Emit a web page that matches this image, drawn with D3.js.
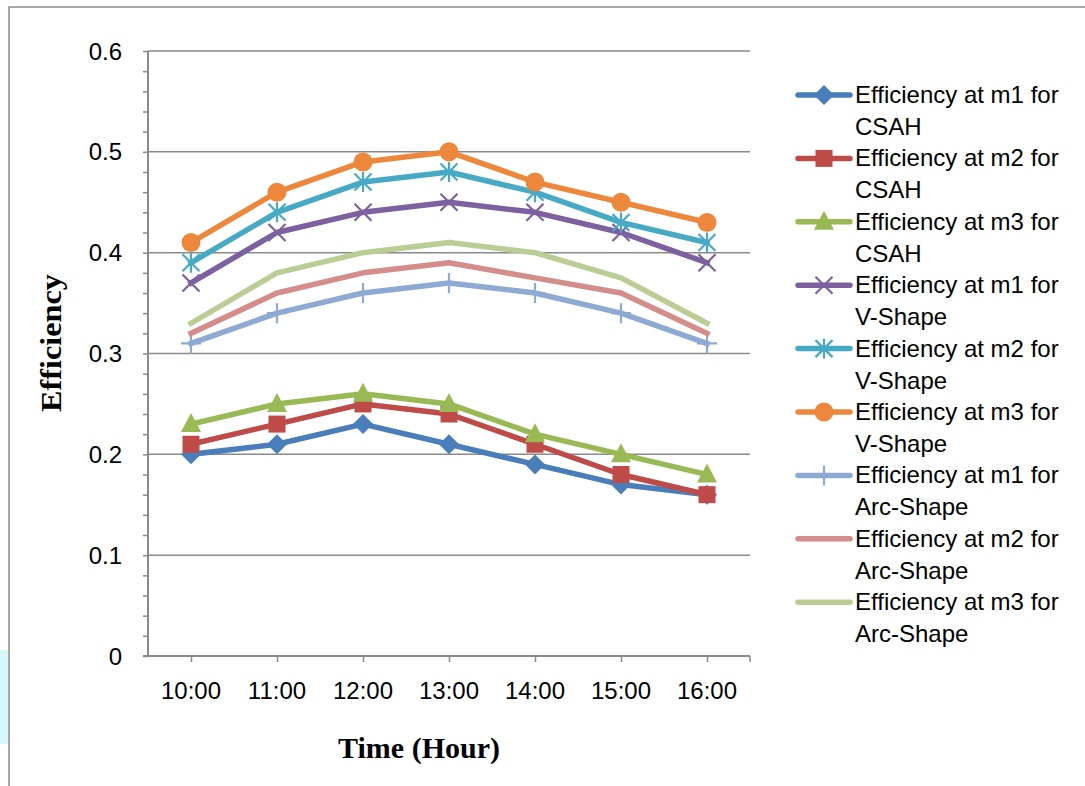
<!DOCTYPE html>
<html>
<head>
<meta charset="utf-8">
<script src="https://cdn.jsdelivr.net/npm/d3@7"></script>
<style>
  body { margin: 0; background: #fff; }
  text { font-family: "Liberation Sans", Arial, sans-serif; }
</style>
</head>
<body>
<script>
var hours = ["10:00", "11:00", "12:00", "13:00", "14:00", "15:00", "16:00"];
var yTicks = [0, 0.1, 0.2, 0.3, 0.4, 0.5, 0.6];

var csahM1 = [0.2, 0.21, 0.23, 0.21, 0.19, 0.17, 0.16];
var csahM2 = [0.21, 0.23, 0.25, 0.24, 0.21, 0.18, 0.16];
var csahM3 = [0.23, 0.25, 0.26, 0.25, 0.22, 0.2, 0.18];
var vM1 = [0.37, 0.42, 0.44, 0.45, 0.44, 0.42, 0.39];
var vM2 = [0.39, 0.44, 0.47, 0.48, 0.46, 0.43, 0.41];
var vM3 = [0.41, 0.46, 0.49, 0.5, 0.47, 0.45, 0.43];
var arcM1 = [0.31, 0.34, 0.36, 0.37, 0.36, 0.34, 0.31];
var arcM2 = [0.32, 0.36, 0.38, 0.39, 0.375, 0.36, 0.32];
var arcM3 = [0.33, 0.38, 0.4, 0.41, 0.4, 0.375, 0.33];

var seriesNames = [
  ["Efficiency at m1 for", "CSAH"],
  ["Efficiency at m2 for", "CSAH"],
  ["Efficiency at m3 for", "CSAH"],
  ["Efficiency at m1 for", "V-Shape"],
  ["Efficiency at m2 for", "V-Shape"],
  ["Efficiency at m3 for", "V-Shape"],
  ["Efficiency at m1 for", "Arc-Shape"],
  ["Efficiency at m2 for", "Arc-Shape"],
  ["Efficiency at m3 for", "Arc-Shape"]
];
var seriesValues = [csahM1, csahM2, csahM3, vM1, vM2, vM3, arcM1, arcM2, arcM3];
var colors = ["#4a7ebb", "#be4b48", "#98b954", "#7d60a0", "#46aac5", "#ec873c",
  "#8eaad2", "#d48d8b", "#b9cd95"];
var markers = ["diamond", "square", "triangle", "x", "star", "circle", "plus", "none", "none"];

var width = 1085, height = 786;
var plotLeft = 148, plotRight = 750, plotTop = 51, plotBottom = 656;

var svg = d3.select("body").append("svg")
  .attr("width", width)
  .attr("height", height);

// scan artifact + outer frame
svg.append("rect").attr("x", 0).attr("y", 650).attr("width", 8).attr("height", 94)
  .attr("fill", "#d6f8fb");
svg.append("path")
  .attr("d", "M9," + height + "V7H" + width)
  .attr("fill", "none").attr("stroke", "#8c8c8c").attr("stroke-width", 1.5);

var x = d3.scalePoint().domain(hours).range([plotLeft, plotRight]).padding(0.5);
var y = d3.scaleLinear().domain([0, 0.6]).range([plotBottom, plotTop]);

// gridlines
svg.append("g").selectAll("line").data(yTicks.slice(1)).enter().append("line")
  .attr("x1", plotLeft).attr("x2", plotRight)
  .attr("y1", function (d) { return y(d); })
  .attr("y2", function (d) { return y(d); })
  .attr("stroke", "#8a8a8a").attr("stroke-width", 1.5);

// y axis with minor ticks
var yAxis = d3.axisLeft(y).tickValues(d3.range(0, 0.601, 0.02)).tickSize(5).tickFormat("");
var yg = svg.append("g").attr("transform", "translate(" + plotLeft + ",0)").call(yAxis);
yg.select(".domain").remove();
yg.selectAll("line").attr("stroke", "#8a8a8a").attr("stroke-width", 1.5);
svg.append("line").attr("x1", plotLeft).attr("x2", plotLeft).attr("y1", plotTop).attr("y2", plotBottom)
  .attr("stroke", "#8a8a8a").attr("stroke-width", 2);

svg.append("g").selectAll("text").data(yTicks).enter().append("text")
  .attr("x", 122)
  .attr("y", function (d) { return y(d); })
  .attr("dy", "0.36em")
  .attr("text-anchor", "end")
  .style("font-size", "24px")
  .text(function (d) { return d === 0 ? "0" : d3.format(".1f")(d); });

// x axis
var xAxis = d3.axisBottom(x).tickSize(6).tickFormat("");
var xg = svg.append("g").attr("transform", "translate(0," + plotBottom + ")").call(xAxis);
xg.select(".domain").remove();
xg.selectAll("line").attr("stroke", "#8a8a8a").attr("stroke-width", 1.5);
svg.append("line").attr("x1", plotLeft - 5).attr("x2", plotRight).attr("y1", plotBottom).attr("y2", plotBottom)
  .attr("stroke", "#8a8a8a").attr("stroke-width", 2);
svg.append("line").attr("x1", plotRight).attr("x2", plotRight).attr("y1", plotBottom).attr("y2", plotBottom + 6)
  .attr("stroke", "#8a8a8a").attr("stroke-width", 1.5);

svg.append("g").selectAll("text").data(hours).enter().append("text")
  .attr("x", function (d) { return x(d); })
  .attr("y", 699)
  .attr("text-anchor", "middle")
  .style("font-size", "24px")
  .text(function (d) { return d; });

// axis titles
svg.append("text")
  .attr("x", 419).attr("y", 758)
  .attr("text-anchor", "middle")
  .style("font-family", "'Liberation Serif', 'Times New Roman', serif")
  .style("font-weight", "bold")
  .style("font-size", "30px")
  .text("Time (Hour)");

svg.append("text")
  .attr("transform", "translate(61,343) rotate(-90)")
  .attr("text-anchor", "middle")
  .attr("textLength", 138)
  .attr("lengthAdjust", "spacingAndGlyphs")
  .style("font-family", "'Liberation Serif', 'Times New Roman', serif")
  .style("font-weight", "bold")
  .style("font-size", "30px")
  .text("Efficiency");

function drawMarker(g, type, cx, cy, color) {
  var s = 10;
  if (type === "diamond") {
    g.append("path").attr("d", "M" + cx + "," + (cy - s) + "L" + (cx + s) + "," + cy +
      "L" + cx + "," + (cy + s) + "L" + (cx - s) + "," + cy + "Z").attr("fill", color);
  } else if (type === "square") {
    g.append("rect").attr("x", cx - 8.5).attr("y", cy - 8.5).attr("width", 17).attr("height", 17)
      .attr("fill", color);
  } else if (type === "triangle") {
    g.append("path").attr("d", "M" + cx + "," + (cy - 11) + "L" + (cx + 10) + "," + (cy + 8) +
      "L" + (cx - 10) + "," + (cy + 8) + "Z").attr("fill", color);
  } else if (type === "circle") {
    g.append("circle").attr("cx", cx).attr("cy", cy).attr("r", 9.5).attr("fill", color);
  } else if (type === "x" || type === "star") {
    var k = 8.5;
    g.append("path").attr("d", "M" + (cx - k) + "," + (cy - k) + "L" + (cx + k) + "," + (cy + k) +
      "M" + (cx - k) + "," + (cy + k) + "L" + (cx + k) + "," + (cy - k) +
      (type === "star" ? "M" + cx + "," + (cy - 10) + "L" + cx + "," + (cy + 10) : ""))
      .attr("stroke", color).attr("stroke-width", 2.2).attr("fill", "none");
  } else if (type === "plus") {
    g.append("path").attr("d", "M" + cx + "," + (cy - 10) + "L" + cx + "," + (cy + 10) +
      "M" + (cx - 10) + "," + cy + "L" + (cx + 10) + "," + cy)
      .attr("stroke", color).attr("stroke-width", 2.2).attr("fill", "none");
  }
}

var line = d3.line()
  .x(function (d, i) { return x(hours[i]); })
  .y(function (d) { return y(d); });

seriesValues.forEach(function (vals, si) {
  var g = svg.append("g").attr("class", "series");
  g.append("path")
    .attr("d", line(vals))
    .attr("fill", "none")
    .attr("stroke", colors[si])
    .attr("stroke-width", 5.5)
    .attr("stroke-linejoin", "round")
    .attr("stroke-linecap", "square");
  vals.forEach(function (v, i) {
    drawMarker(g, markers[si], x(hours[i]), y(v), colors[si]);
  });
});

// legend
var legend = svg.append("g");
seriesNames.forEach(function (name, si) {
  var cy = 95 + si * 63.4;
  var g = legend.append("g");
  g.append("line").attr("x1", 798).attr("x2", 850).attr("y1", cy).attr("y2", cy)
    .attr("stroke", colors[si]).attr("stroke-width", 5.5).attr("stroke-linecap", "round");
  drawMarker(g, markers[si], 824, cy, colors[si]);
  g.append("text").attr("x", 855).attr("y", cy + 8).style("font-size", "24px").text(name[0]);
  g.append("text").attr("x", 855).attr("y", cy + 40).style("font-size", "24px").text(name[1]);
});
</script>
</body>
</html>
